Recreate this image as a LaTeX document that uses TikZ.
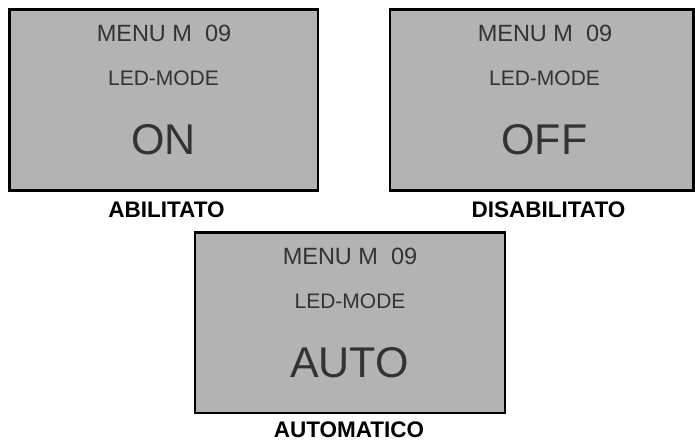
\documentclass[tikz,border=0pt]{standalone}
\usepackage{fontspec}
\setmainfont{Liberation Sans}
\begin{document}
\begin{tikzpicture}[x=1pt,y=-1pt,
  panel/.style={draw=black,line width=2.2pt,fill=panelgray},
  menutxt/.style={inner sep=0pt,text=txtgray,font=\fontsize{23.5}{26}\selectfont},
  modetxt/.style={inner sep=0pt,text=txtgray,font=\fontsize{21}{24}\selectfont},
  valtxt/.style={inner sep=0pt,text=txtgray,font=\fontsize{43}{48}\selectfont},
  captxt/.style={inner sep=0pt,text=black,font=\bfseries\fontsize{22.5}{26}\selectfont}]
\definecolor{panelgray}{HTML}{B3B3B3}
\definecolor{txtgray}{HTML}{333333}
\useasboundingbox (0,0) rectangle (695,441);
% top-left panel
\draw[panel] (9.5,9.5) rectangle (318,190.5);
\node[menutxt] (m1) at (164,33.5) {MENU M\ \ 09};
\node[modetxt] (l1) at (163.5,78.5) {LED-MODE};
\node[valtxt] (v1) at (163.5,140) {ON};
\node[captxt] (c1) at (166.5,209.5) {ABILITATO};
% top-right panel
\draw[panel] (390,9.5) rectangle (693.5,190.5);
\node[menutxt] (m2) at (545,33.5) {MENU M\ \ 09};
\node[modetxt] (l2) at (544.5,78.5) {LED-MODE};
\node[valtxt] (v2) at (544.5,140) {OFF};
\node[captxt] (c2) at (548.5,209.5) {DISABILITATO};
% bottom panel
\draw[panel] (195,232.5) rectangle (505,413);
\node[menutxt] (m3) at (350,256) {MENU M\ \ 09};
\node[modetxt] (l3) at (350,301.5) {LED-MODE};
\node[valtxt] (v3) at (349.5,363) {AUTO};
\node[captxt] (c3) at (349,429.5) {AUTOMATICO};
\end{tikzpicture}
\end{document}
